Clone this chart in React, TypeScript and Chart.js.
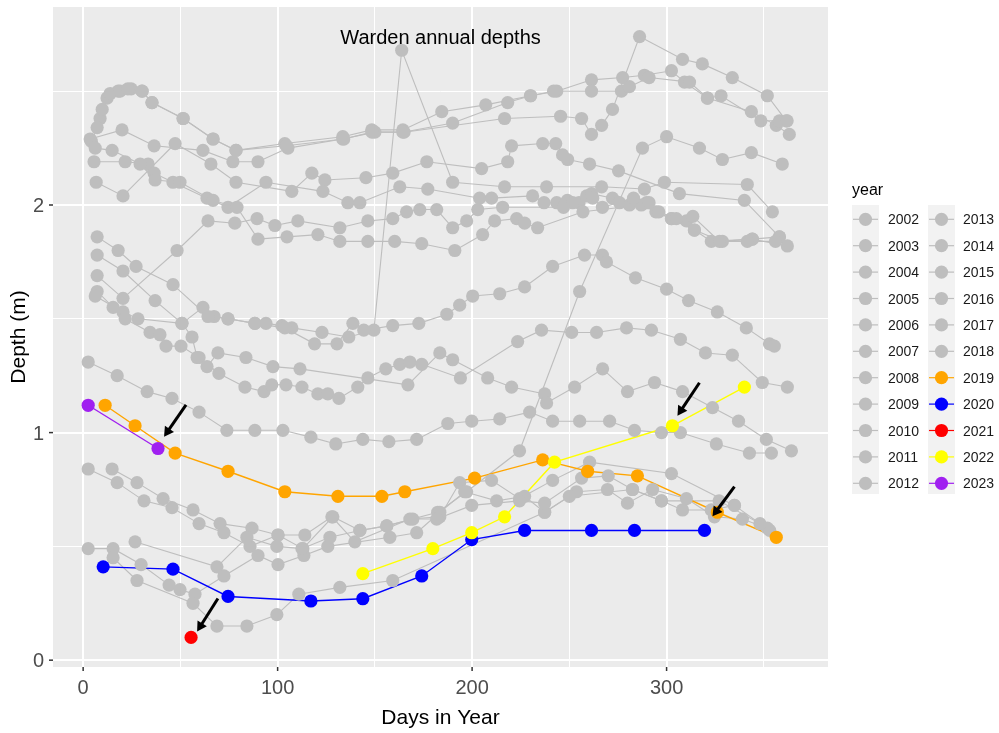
import React, { useEffect, useRef } from "react";
import { Chart, registerables } from "chart.js";

Chart.register(...registerables);

type Pt = [number, number];

// ---- data: [day of year, depth in metres] per year ----
const years = [
  2002, 2003, 2004, 2005, 2006, 2007, 2008, 2009, 2010, 2011, 2012,
  2013, 2014, 2015, 2016, 2017, 2018, 2019, 2020, 2021, 2022, 2023,
];

const depths2002: Pt[] = [
  [8.7, 2.38], [12.3, 2.47], [18.0, 2.5], [24.7, 2.51], [30.3, 2.5], [35.4, 2.45], [51.4, 2.38],
  [66.8, 2.29], [78.6, 2.24], [103.7, 2.27], [133.5, 2.3], [148.4, 2.33], [164.4, 2.33],
  [184.4, 2.41], [207, 2.44], [230.1, 2.48], [243.5, 2.5], [261.4, 2.55], [277.4, 2.56],
  [288.6, 2.57], [302.5, 2.59], [309.2, 2.54], [321, 2.47], [343.6, 2.41], [356.4, 2.35], [363.1, 2.31],
];
const depths2003: Pt[] = [
  [3.6, 2.29], [20, 2.33], [36.5, 2.26], [61.6, 2.24], [77, 2.19], [89.9, 2.19], [105.3, 2.25],
  [133.5, 2.29], [150, 2.32], [165, 2.32], [216.7, 2.38], [245.5, 2.39], [256.3, 2.38],
  [261.4, 2.31], [266.6, 2.35], [272.2, 2.42], [286.1, 2.74], [308.2, 2.64], [318.4, 2.62],
  [333.8, 2.56], [351.8, 2.48], [361.6, 2.37],
];
const depths2004: Pt[] = [
  [6.7, 2.1], [20.5, 2.04], [47.3, 2.27], [65.7, 2.18], [78.6, 2.1], [107.3, 2.06], [117.6, 2.14],
  [124.3, 2.11], [145.4, 2.12], [159.2, 2.14], [176.7, 2.19], [204.9, 2.16], [218.3, 2.19],
  [220.3, 2.26], [236.3, 2.27], [243, 2.27], [246.5, 2.22], [249.1, 2.2], [260.4, 2.18],
  [275.3, 2.15], [306.6, 2.05], [340, 2.02], [358, 1.86],
];
const depths2005: Pt[] = [
  [5.6, 2.19], [21.6, 2.19], [33.4, 2.18], [36.5, 2.14], [46.2, 2.1], [63.7, 2.03], [74.5, 1.99],
  [94, 2.1], [123.3, 2.06], [136.1, 2.01], [142.3, 2.01], [162.8, 2.08], [177.2, 2.07],
  [203.9, 2.03], [210, 2.03], [231.1, 2.04], [237, 2.01], [243.5, 2.01], [249, 2.02], [255, 2.01],
  [258.9, 2.04], [261.4, 2.05], [272.2, 2.03], [275.8, 2.01], [280.9, 2.0], [289.7, 2.01],
  [294.5, 1.97], [302.5, 1.94], [310.2, 1.93], [314.3, 1.89], [328.7, 1.84], [344.1, 1.85], [362.1, 1.82],
];
const depths2006: Pt[] = [
  [14.9, 0.84], [27.7, 0.78], [41.1, 0.71], [56.5, 0.66], [70.4, 0.6], [86.8, 0.58], [100.2, 0.55],
  [113, 0.49], [128.4, 0.63], [142.3, 0.57], [156.1, 0.59], [182.3, 0.65], [197.2, 0.74],
  [224.4, 0.92], [255.3, 1.62], [287.6, 2.25], [300, 2.3], [316.9, 2.25], [328.7, 2.2],
  [343.6, 2.23], [359.5, 2.18],
];
const depths2007: Pt[] = [
  [4.2, 2.28], [7.2, 2.34], [9.8, 2.42], [13.9, 2.49], [19, 2.5], [23, 2.51], [30.3, 2.5],
  [35.4, 2.45], [51.4, 2.38], [66.8, 2.29], [78.6, 2.24], [104.5, 2.26], [134, 2.29],
  [148.5, 2.32], [164.4, 2.32], [190, 2.36], [218.3, 2.45], [230, 2.48], [241.9, 2.5],
  [261.4, 2.5], [276.8, 2.5], [280.9, 2.52], [291, 2.56], [311.8, 2.54], [321, 2.47],
  [328, 2.48], [348.5, 2.37], [358, 2.37], [362, 2.37],
];
const depths2008: Pt[] = [
  [6.2, 2.25], [14.9, 2.24], [29.3, 2.18], [37, 2.11], [49.8, 2.1], [66.8, 2.02], [79.1, 1.99],
  [89.9, 1.85], [104.8, 1.86], [120.7, 1.87], [132, 1.84], [146.4, 1.84], [160.2, 1.84],
  [174.1, 1.83], [191.1, 1.8], [205.4, 1.87], [211.6, 1.93], [222.9, 1.94], [227, 1.92],
  [233.7, 1.9], [257, 1.97], [287, 2.0], [302.5, 1.94], [314.3, 1.89], [323, 1.84],
  [344.1, 1.85], [358, 1.86],
];
const depths2009: Pt[] = [
  [7.2, 1.62], [15.4, 1.55], [28.2, 1.5], [50.8, 1.48], [61.6, 1.55], [67.3, 1.51], [74.5, 1.5],
  [88.3, 1.48], [94, 1.48], [102.2, 1.47], [107.3, 1.46], [122.8, 1.44], [136.6, 1.42],
  [149.5, 1.45], [163.8, 2.68], [190, 2.1], [216.7, 2.08], [238.3, 2.08], [266.6, 2.08],
  [288.6, 2.07], [298.9, 2.1], [341.5, 2.09], [354.4, 1.97],
];
const depths2010: Pt[] = [
  [7.2, 1.86], [18, 1.8], [27.2, 1.73], [46.2, 1.65], [64.2, 1.51], [74.5, 1.5], [88.3, 1.48],
  [103.7, 1.46], [119, 1.39], [130.5, 1.39], [138.7, 1.48], [144.3, 1.45], [159.2, 1.47],
  [172.6, 1.48], [187, 1.52], [193.6, 1.56], [200.3, 1.6], [214.2, 1.61], [227, 1.64],
  [241.4, 1.73], [257.8, 1.78], [267, 1.78], [269.1, 1.75], [284, 1.68], [300, 1.63],
  [311.3, 1.58], [326.1, 1.53], [341, 1.46], [352.9, 1.39], [355.4, 1.38],
];
const depths2011: Pt[] = [
  [6.2, 1.6], [20.5, 1.53], [21.6, 1.5], [34.4, 1.44], [39.5, 1.43], [42.6, 1.38], [50.3, 1.38],
  [59.6, 1.33], [69.8, 1.26], [83.2, 1.2], [93, 1.18], [97, 1.21], [104.3, 1.21], [112.5, 1.2],
  [120.7, 1.17], [125.8, 1.17], [131.5, 1.15], [141.2, 1.2], [146.4, 1.24], [155.6, 1.28],
  [162.8, 1.3], [168, 1.31], [174.1, 1.3], [194, 1.24], [223.4, 1.4], [235.7, 1.45],
  [251.2, 1.44], [264, 1.44], [279.4, 1.46], [292.2, 1.45], [307.1, 1.41], [320, 1.35],
  [333.8, 1.34], [349.2, 1.22], [362.1, 1.2],
];
const depths2012: Pt[] = [
  [7.2, 1.69], [20.5, 1.59], [48.3, 1.8], [64.2, 1.93], [78, 1.92], [89.4, 1.94], [98.6, 1.91],
  [110.4, 1.93], [132, 1.9], [146.4, 1.93], [159.2, 1.94], [166.3, 1.97], [173.1, 1.98],
  [181.8, 1.98], [190, 1.9], [197.2, 1.93], [202.9, 1.98], [215.7, 1.99], [247, 1.99],
  [251.7, 2.01], [262, 2.03], [267, 1.99], [283, 2.03], [291, 2.01], [296, 1.97], [305, 1.94],
  [313.5, 1.95], [327.2, 1.84], [341.5, 1.84], [356, 1.84],
];
const depths2013: Pt[] = [
  [2.6, 1.31], [17.5, 1.25], [32.9, 1.18], [45.7, 1.15], [59.6, 1.09], [73.9, 1.01], [88.3, 1.01],
  [102.7, 1.01], [117.1, 0.98], [129.9, 0.95], [143.8, 0.97], [157.2, 0.96], [171.5, 0.97],
  [187.5, 1.04], [199.8, 1.05], [214.2, 1.06], [229.6, 1.09], [241.4, 1.05], [255.3, 1.05],
  [270.7, 1.05], [283.5, 1.01], [297.4, 1.0], [307.1, 1.0], [325.6, 0.95], [342.6, 0.91], [353.9, 0.91],
];
const depths2014: Pt[] = [
  [7.2, 1.78], [20.5, 1.71], [37, 1.58], [50.8, 1.48], [56, 1.42], [58.6, 1.33], [63.7, 1.29],
  [69.3, 1.35], [83.7, 1.33], [97.6, 1.29], [111.5, 1.28], [167, 1.21], [183.4, 1.35], [190, 1.32],
  [208, 1.24], [220.3, 1.2], [237.3, 1.17], [238.3, 1.13], [252.7, 1.2], [267.1, 1.28],
  [279.9, 1.18], [293.8, 1.22], [308.2, 1.18], [323.6, 1.11], [337, 1.05], [351.3, 0.97], [364.2, 0.92],
];
const depths2015: Pt[] = [
  [2.6, 0.84], [17.5, 0.78], [31.3, 0.7], [45.7, 0.67], [59.6, 0.6], [72.4, 0.56], [85.8, 0.5],
  [100.2, 0.55], [114, 0.55], [127.9, 0.63], [139.7, 0.52], [168, 0.62], [183.4, 0.63],
  [193.6, 0.78], [210, 0.79], [224.4, 0.71], [241.4, 0.79], [260.4, 0.87], [302.5, 0.82],
  [334.9, 0.68], [353, 0.57],
];
const depths2016: Pt[] = [
  [2.6, 0.49], [15.4, 0.49], [29.8, 0.42], [44.2, 0.33], [49.8, 0.31], [57.5, 0.29], [72.4, 0.37],
  [89.9, 0.46], [100.2, 0.42], [113.5, 0.46], [125.8, 0.5], [157.7, 0.54], [171.5, 0.56],
  [183.4, 0.65], [196.2, 0.74], [212.6, 0.7], [227, 0.72], [237.3, 0.65], [253.7, 0.74],
  [269.6, 0.75], [279.9, 0.69], [292.8, 0.75], [310.2, 0.71], [324.6, 0.63], [339, 0.62], [351.8, 0.58],
];
const depths2017: Pt[] = [
  [15.4, 0.45], [27.7, 0.35], [56.5, 0.25], [68.8, 0.15], [84.2, 0.15], [99.6, 0.2], [110.9, 0.29],
  [132, 0.32], [159.2, 0.35], [237.3, 0.65], [250, 0.72], [282.5, 0.75], [297.4, 0.7],
  [327, 0.7], [348, 0.6],
];
const depths2018: Pt[] = [
  [26.7, 0.52], [68.8, 0.41], [84.2, 0.54], [99.6, 0.5], [112.5, 0.49], [126.9, 0.54], [142.3, 0.57],
  [156.1, 0.59], [169.5, 0.62], [181.8, 0.62], [199.8, 0.68], [224.4, 0.7], [237.3, 0.69],
  [256.3, 0.8], [270, 0.81], [282.5, 0.75], [297.4, 0.7], [308.2, 0.66], [323, 0.66], [334.9, 0.68],
];
const depths2019: Pt[] = [
  [11.3, 1.12], [26.7, 1.03], [47.3, 0.91], [74.5, 0.83], [103.7, 0.74], [131, 0.72], [153.6, 0.72],
  [165.4, 0.74], [201.3, 0.8], [236.3, 0.88], [259.4, 0.83], [285, 0.81], [326.1, 0.65], [356.4, 0.54],
];
const depths2020: Pt[] = [
  [10.3, 0.41], [46.2, 0.4], [74.5, 0.28], [117.1, 0.26], [143.8, 0.27], [174.1, 0.37],
  [199.8, 0.53], [227, 0.57], [261.4, 0.57], [283.5, 0.57], [319.5, 0.57],
];
const depths2021: Pt[] = [[55.5, 0.1]];
const depths2022: Pt[] = [
  [143.8, 0.38], [179.8, 0.49], [199.8, 0.56], [216.7, 0.63], [242.4, 0.87], [303, 1.03], [340, 1.2],
];
const depths2023: Pt[] = [[2.6, 1.12], [38.5, 0.93]];

const depthsByYear: Record<number, Pt[]> = {
  2002: depths2002, 2003: depths2003, 2004: depths2004, 2005: depths2005, 2006: depths2006,
  2007: depths2007, 2008: depths2008, 2009: depths2009, 2010: depths2010, 2011: depths2011,
  2012: depths2012, 2013: depths2013, 2014: depths2014, 2015: depths2015, 2016: depths2016,
  2017: depths2017, 2018: depths2018, 2019: depths2019, 2020: depths2020, 2021: depths2021,
  2022: depths2022, 2023: depths2023,
};

const greyColour = "#BEBEBE";
const yearColours: Record<number, string> = {
  2019: "#FFA500",
  2020: "#0000FF",
  2021: "#FF0000",
  2022: "#FFFF00",
  2023: "#A020F0",
};

const xTickValues = [0, 50, 100, 150, 200, 250, 300, 350];
const xTickLabels = ["0", "", "100", "", "200", "", "300", ""];
const yTickValues = [0, 0.5, 1, 1.5, 2, 2.5];
const yTickLabels = ["0", "", "1", "", "2", ""];

// annotation arrows: tail and head in data units (day, depth)
const arrowTails: Pt[] = [[52.9, 1.122], [69.3, 0.271], [316.9, 1.219], [334.9, 0.763]];
const arrowHeads: Pt[] = [[41.6, 0.982], [58.6, 0.126], [305.6, 1.074], [323.6, 0.632]];

const plotTitle = "Warden annual depths";
const xAxisTitle = "Days in Year";
const yAxisTitle = "Depth (m)";
const legendTitle = "year";

const FONT = "'Liberation Sans', Arial, Helvetica, sans-serif";

const colourOf = (yr: number) => yearColours[yr] ?? greyColour;

const ggDecor = {
  id: "ggDecor",
  beforeDraw(chart: any) {
    const { ctx, chartArea: a } = chart;
    ctx.save();
    ctx.fillStyle = "#FFFFFF";
    ctx.fillRect(0, 0, chart.width, chart.height);
    ctx.fillStyle = "#EBEBEB";
    ctx.fillRect(a.left, a.top, a.right - a.left, a.bottom - a.top);
    ctx.restore();
  },
  afterDraw(chart: any) {
    const { ctx, chartArea: a } = chart;
    const xs = chart.scales.x;
    const ys = chart.scales.y;
    ctx.save();

    // title inside the panel
    ctx.fillStyle = "#000000";
    ctx.font = `20px ${FONT}`;
    ctx.textAlign = "center";
    ctx.textBaseline = "alphabetic";
    ctx.fillText(plotTitle, (a.left + a.right) / 2, 44);

    // arrows
    ctx.strokeStyle = "#000000";
    ctx.fillStyle = "#000000";
    ctx.lineWidth = 3;
    ctx.lineCap = "butt";
    arrowTails.forEach((t, i) => {
      const h = arrowHeads[i];
      const x0 = xs.getPixelForValue(t[0]);
      const y0 = ys.getPixelForValue(t[1]);
      const x1 = xs.getPixelForValue(h[0]);
      const y1 = ys.getPixelForValue(h[1]);
      const ang = Math.atan2(y1 - y0, x1 - x0);
      const len = 11;
      const spread = Math.PI / 6;
      const bx = x1 - Math.cos(ang) * len * 0.8;
      const by = y1 - Math.sin(ang) * len * 0.8;
      ctx.beginPath();
      ctx.moveTo(x0, y0);
      ctx.lineTo(bx, by);
      ctx.stroke();
      ctx.beginPath();
      ctx.moveTo(x1, y1);
      ctx.lineTo(x1 - Math.cos(ang - spread) * len, y1 - Math.sin(ang - spread) * len);
      ctx.lineTo(x1 - Math.cos(ang + spread) * len, y1 - Math.sin(ang + spread) * len);
      ctx.closePath();
      ctx.fill();
    });

    // axis ticks and tick labels
    ctx.strokeStyle = "#333333";
    ctx.lineWidth = 1.5;
    ctx.fillStyle = "#4D4D4D";
    ctx.font = `20px ${FONT}`;
    ctx.textAlign = "center";
    xTickValues.forEach((v, i) => {
      if (!xTickLabels[i]) return;
      const px = xs.getPixelForValue(v);
      ctx.beginPath();
      ctx.moveTo(px, a.bottom);
      ctx.lineTo(px, a.bottom + 4);
      ctx.stroke();
      ctx.fillText(xTickLabels[i], px, 694);
    });
    ctx.textAlign = "right";
    yTickValues.forEach((v, i) => {
      if (!yTickLabels[i]) return;
      const py = ys.getPixelForValue(v);
      ctx.beginPath();
      ctx.moveTo(a.left - 4, py);
      ctx.lineTo(a.left, py);
      ctx.stroke();
      ctx.fillText(yTickLabels[i], 44, py + 7);
    });

    // axis titles
    ctx.fillStyle = "#000000";
    ctx.font = `21px ${FONT}`;
    ctx.textAlign = "center";
    ctx.fillText(xAxisTitle, (a.left + a.right) / 2, 724);
    ctx.save();
    ctx.translate(25, (a.top + a.bottom) / 2);
    ctx.rotate(-Math.PI / 2);
    ctx.fillText(yAxisTitle, 0, 0);
    ctx.restore();

    // legend
    ctx.textAlign = "left";
    ctx.font = `16px ${FONT}`;
    ctx.fillStyle = "#000000";
    ctx.fillText(legendTitle, 852, 195);
    const rowH = 26.4;
    const row0 = 219.3;
    const colKeyX = [852, 928];
    const colTextX = [888, 963];
    ctx.fillStyle = "#F2F2F2";
    colKeyX.forEach((kx) => ctx.fillRect(kx, 205, 27, 289));
    ctx.font = `14px ${FONT}`;
    years.forEach((yr, i) => {
      const col = i < 11 ? 0 : 1;
      const r = i % 11;
      const cx = colKeyX[col] + 13.5;
      const cy = row0 + r * rowH;
      const c = colourOf(yr);
      ctx.strokeStyle = c;
      ctx.lineWidth = 1.2;
      ctx.beginPath();
      ctx.moveTo(colKeyX[col] + 1, cy);
      ctx.lineTo(colKeyX[col] + 26, cy);
      ctx.stroke();
      ctx.fillStyle = c;
      ctx.beginPath();
      ctx.arc(cx, cy, 6.6, 0, Math.PI * 2);
      ctx.fill();
      ctx.fillStyle = "#1A1A1A";
      ctx.fillText(String(yr), colTextX[col], cy + 5);
    });

    ctx.restore();
  },
};

export default function App() {
  const canvasRef = useRef<HTMLCanvasElement | null>(null);

  useEffect(() => {
    const canvas = canvasRef.current;
    if (!canvas) return;

    const toXY = (pts: Pt[]) => pts.map(([x, y]) => ({ x, y }));

    const lineSets = years.map((yr, i) => ({
      label: `${yr} line`,
      data: toXY(depthsByYear[yr]),
      showLine: true,
      borderColor: colourOf(yr),
      borderWidth: yearColours[yr] ? 1.4 : 1.1,
      pointRadius: 0,
      pointHoverRadius: 0,
      tension: 0,
      order: 1000 - i,
    }));
    const pointSets = years.map((yr, i) => ({
      label: String(yr),
      data: toXY(depthsByYear[yr]),
      showLine: false,
      pointRadius: 6.6,
      pointHoverRadius: 6.6,
      pointBackgroundColor: colourOf(yr),
      pointBorderColor: colourOf(yr),
      pointBorderWidth: 0,
      order: 100 - i,
    }));

    const chart = new Chart(canvas, {
      type: "line",
      data: { datasets: [...lineSets, ...pointSets] as any },
      options: {
        animation: false,
        responsive: false,
        devicePixelRatio: 1,
        events: [],
        layout: { padding: { left: 0, right: 171, top: 7, bottom: 0 } },
        plugins: {
          legend: { display: false },
          tooltip: { enabled: false },
          title: { display: false },
        },
        scales: {
          x: {
            type: "linear",
            min: -15.5,
            max: 383,
            afterBuildTicks: (scale: any) => {
              scale.ticks = xTickValues.map((value) => ({ value }));
            },
            afterFit: (scale: any) => {
              scale.height = 66;
            },
            ticks: { display: false },
            border: { display: false },
            grid: {
              drawTicks: false,
              color: "#FFFFFF",
              lineWidth: (ctx: any) => (ctx.tick && ctx.tick.value % 100 === 0 ? 2 : 1),
            },
          },
          y: {
            type: "linear",
            min: -0.03,
            max: 2.87,
            afterBuildTicks: (scale: any) => {
              scale.ticks = yTickValues.map((value) => ({ value }));
            },
            afterFit: (scale: any) => {
              scale.width = 53;
            },
            ticks: { display: false },
            border: { display: false },
            grid: {
              drawTicks: false,
              color: "#FFFFFF",
              lineWidth: (ctx: any) => (ctx.tick && Number.isInteger(ctx.tick.value) ? 2 : 1),
            },
          },
        },
      },
      plugins: [ggDecor],
    });

    return () => chart.destroy();
  }, []);

  return (
    <div style={{ position: "absolute", left: 0, top: 0, width: 999, height: 733, background: "#FFFFFF" }}>
      <canvas ref={canvasRef} width={999} height={733} style={{ display: "block" }} />
    </div>
  );
}
